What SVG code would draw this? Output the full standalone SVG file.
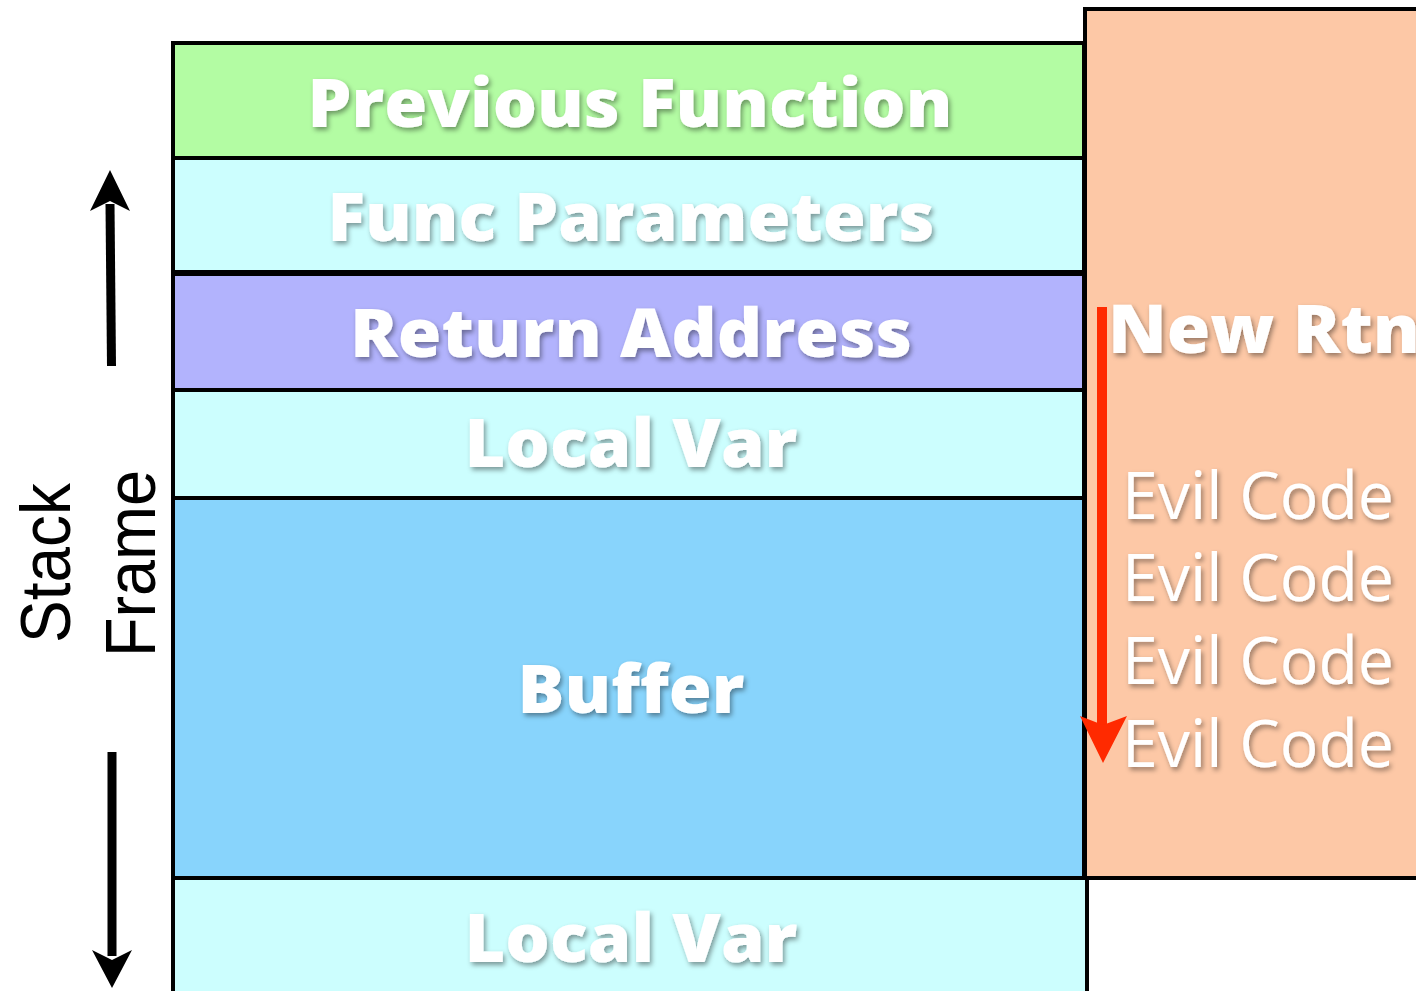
<svg xmlns="http://www.w3.org/2000/svg" width="1416" height="991" viewBox="0 0 1416 991">
  <defs>
    <filter id="shadow" x="-10%" y="-30%" width="120%" height="160%">
      <feDropShadow dx="2" dy="3" stdDeviation="2.5" flood-color="#000" flood-opacity="0.4"/>
    </filter>
  </defs>
  <style>
    .cell { stroke: #000; stroke-width: 4; }
    .label { font-family: "Open Sans", "Liberation Sans", sans-serif; font-weight: 800; font-size: 68px; fill: #fff; text-anchor: middle; filter: url(#shadow); }
    .evil { font-family: "Open Sans", "Liberation Sans", sans-serif; font-weight: 400; font-size: 66px; fill: #fff; filter: url(#shadow); }
    .side { font-family: "Liberation Sans", Arial, sans-serif; font-size: 70px; fill: #000; }
    .black { fill: #000; stroke: none; }
    .shaft { stroke: #000; stroke-width: 9; fill: none; }
    .red { fill: #ff2a00; stroke: none; }
    .redshaft { stroke: #ff2a00; stroke-width: 10; fill: none; }
  </style>

  <rect width="1416" height="991" fill="#fff"/>

  <!-- injected payload column -->
  <g id="payload">
    <rect class="cell" x="1085" y="9" width="400" height="869" fill="#fdc8a6"/>
    <text class="label" x="1108" y="353" style="text-anchor:start" font-size="66" textLength="312" lengthAdjust="spacingAndGlyphs">New Rtn</text>
    <text class="evil" x="1122" y="519" textLength="272" lengthAdjust="spacingAndGlyphs">Evil Code</text>
    <text class="evil" x="1122" y="601" textLength="272" lengthAdjust="spacingAndGlyphs">Evil Code</text>
    <text class="evil" x="1122" y="684" textLength="272" lengthAdjust="spacingAndGlyphs">Evil Code</text>
    <text class="evil" x="1122" y="767" textLength="272" lengthAdjust="spacingAndGlyphs">Evil Code</text>
  </g>

  <!-- stack frame cells -->
  <g id="previous-function">
    <rect class="cell" x="173" y="43" width="911" height="115" fill="#b3fca3"/>
    <text class="label" x="630" y="127" textLength="645" lengthAdjust="spacingAndGlyphs">Previous Function</text>
  </g>
  <g id="func-parameters">
    <rect class="cell" x="173" y="158" width="911" height="115" fill="#ccfefe"/>
    <text class="label" x="631" y="241" textLength="607" lengthAdjust="spacingAndGlyphs">Func Parameters</text>
  </g>
  <g id="return-address">
    <rect class="cell" x="173" y="273" width="911" height="117" fill="#b2b3fd"/>
    <line x1="171" y1="273" x2="1086" y2="273" stroke="#000" stroke-width="6"/>
    <text class="label" x="631" y="357" textLength="562" lengthAdjust="spacingAndGlyphs">Return Address</text>
  </g>
  <g id="local-var-upper">
    <rect class="cell" x="173" y="390" width="911" height="108" fill="#ccfefe"/>
    <text class="label" x="631" y="467" textLength="333" lengthAdjust="spacingAndGlyphs">Local Var</text>
  </g>
  <g id="buffer">
    <rect class="cell" x="173" y="498" width="911" height="380" fill="#88d4fc"/>
    <text class="label" x="631" y="713" textLength="227" lengthAdjust="spacingAndGlyphs">Buffer</text>
  </g>
  <g id="local-var-lower">
    <rect class="cell" x="173" y="878" width="914" height="130" fill="#ccfefe"/>
    <text class="label" x="631" y="962" textLength="333" lengthAdjust="spacingAndGlyphs">Local Var</text>
  </g>

  <!-- side caption -->
  <g id="caption">
    <text class="side" transform="translate(70,643) rotate(-90)" textLength="160" lengthAdjust="spacingAndGlyphs">Stack</text>
    <text class="side" transform="translate(155,657) rotate(-90)" textLength="187" lengthAdjust="spacingAndGlyphs">Frame</text>
  </g>

  <!-- arrows -->
  <g id="connectors">
    <line class="shaft" x1="111.5" y1="366" x2="110" y2="204"/>
    <polygon class="black" points="110,170 130,211 110,201 90,211"/>
    <line class="shaft" x1="112" y1="752" x2="112" y2="956"/>
    <polygon class="black" points="92,950 112,960 132,950 112,988"/>
    <line class="redshaft" x1="1102" y1="307" x2="1102" y2="726"/>
    <polygon class="red" points="1080,716 1103,725 1127,716 1103,763"/>
  </g>
</svg>
